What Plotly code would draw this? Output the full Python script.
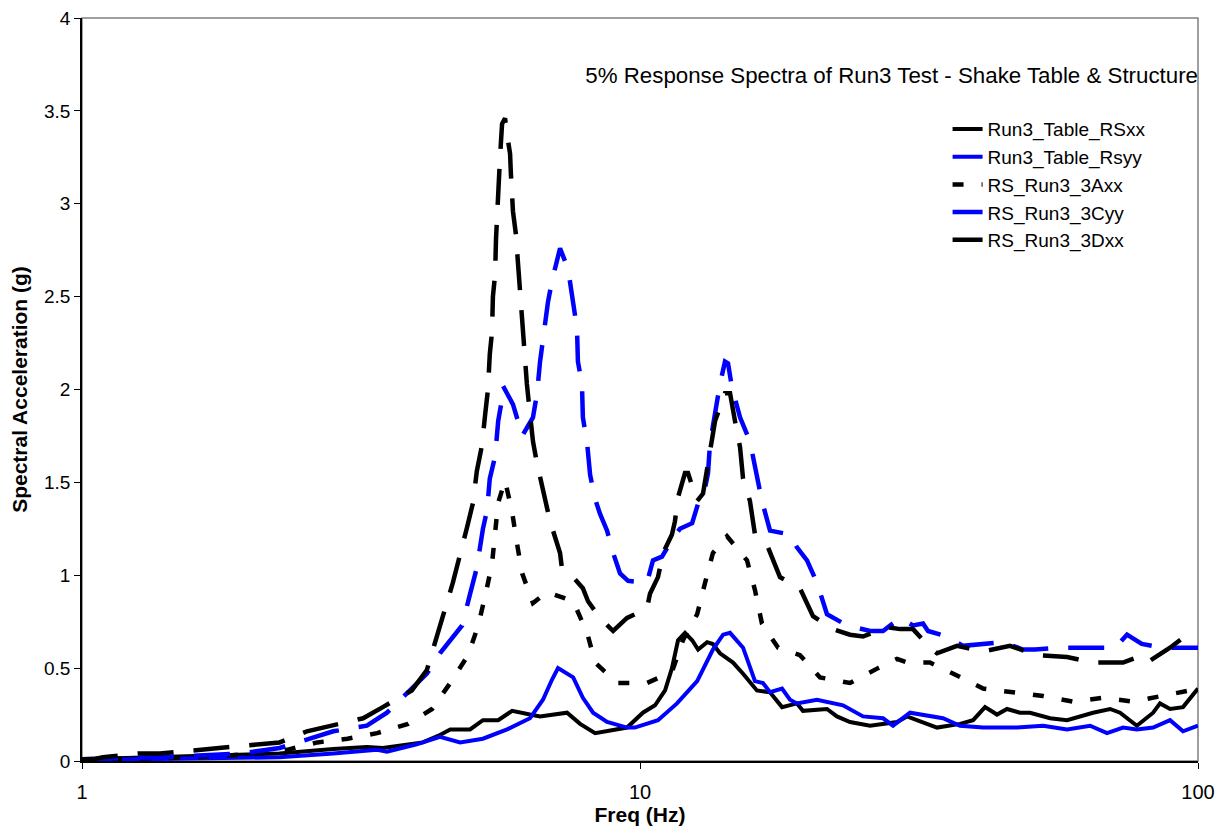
import plotly.graph_objects as go

# ---------------- data ----------------
freq_table_xx = [1.0, 1.17, 1.38, 1.77, 2.26, 2.82, 3.24, 3.46, 4.08, 4.38, 4.57, 4.96, 5.23, 5.57,
                 5.90, 6.35, 6.62, 7.40, 7.81, 8.31, 9.09, 9.48, 10.12, 10.64, 11.09, 11.41, 11.70,
                 12.04, 12.40, 12.71, 13.19, 13.51, 13.91, 14.68, 15.30, 16.20, 17.10, 17.97, 19.11,
                 19.59, 21.63, 22.54, 23.79, 25.84, 28.88, 30.09, 34.06, 37.46, 39.53, 41.53, 43.63,
                 45.47, 47.97, 50.0, 54.31, 58.25, 64.85, 69.56, 72.5, 77.7, 83.1, 85.5, 89.1, 94.0, 100.0]
sa_table_xx = [0.01, 0.015, 0.02, 0.03, 0.04, 0.065, 0.075, 0.07, 0.10, 0.14, 0.17, 0.17, 0.22, 0.22,
               0.27, 0.25, 0.24, 0.26, 0.20, 0.15, 0.17, 0.18, 0.26, 0.30, 0.38, 0.50, 0.65,
               0.69, 0.65, 0.60, 0.64, 0.63, 0.58, 0.53, 0.47, 0.38, 0.37, 0.29, 0.31,
               0.27, 0.28, 0.24, 0.21, 0.19, 0.21, 0.24, 0.18, 0.20, 0.22, 0.29, 0.25,
               0.28, 0.26, 0.26, 0.23, 0.22, 0.26, 0.28, 0.26, 0.19, 0.26, 0.31, 0.28, 0.29, 0.39]

freq_table_yy = [1.0, 1.38, 2.26, 2.82, 3.38, 3.52, 3.98, 4.38, 4.76, 5.23, 5.78, 6.35, 6.70, 6.96,
                 7.13, 7.59, 7.90, 8.24, 8.73, 9.48, 9.79, 10.77, 11.65, 12.66, 13.51, 14.09, 14.50,
                 15.30, 16.07, 16.61, 17.10, 17.97, 18.57, 19.11, 20.76, 23.11, 25.10, 27.26, 28.41,
                 30.47, 34.91, 37.46, 41.19, 47.38, 52.77, 58.25, 64.07, 68.7, 73.4, 77.7, 83.1,
                 89.1, 94.0, 100.0]
sa_table_yy = [0.005, 0.01, 0.02, 0.04, 0.06, 0.05, 0.09, 0.13, 0.10, 0.12, 0.17, 0.23, 0.33, 0.44,
               0.50, 0.45, 0.34, 0.26, 0.21, 0.18, 0.18, 0.22, 0.31, 0.43, 0.60, 0.68, 0.69,
               0.61, 0.43, 0.42, 0.37, 0.39, 0.33, 0.31, 0.33, 0.30, 0.24, 0.23, 0.19,
               0.26, 0.23, 0.19, 0.18, 0.18, 0.19, 0.17, 0.19, 0.15, 0.18, 0.17, 0.18,
               0.22, 0.16, 0.19]

freq_3axx = [1.0, 1.38, 1.77, 2.03, 2.33, 2.64, 2.99, 3.38, 3.84, 4.24, 4.57, 4.92, 5.13, 5.28,
             5.43, 5.50, 5.57, 5.73, 5.90, 6.02, 6.15, 6.43, 6.81, 7.59, 8.04, 8.31, 9.09, 10.29,
             11.41, 11.94, 12.66, 13.08, 13.51, 14.32, 15.55, 16.07, 16.54, 17.68, 19.35, 21.02,
             23.79, 26.70, 28.88, 30.09, 33.09, 36.99, 41.19, 46.61, 52.77, 59.7, 67.58, 76.5,
             86.6, 96.8, 100.0]
sa_3axx = [0.01, 0.015, 0.025, 0.04, 0.06, 0.10, 0.12, 0.15, 0.20, 0.28, 0.42, 0.57, 0.73, 0.89,
           1.06, 1.23, 1.39, 1.51, 1.34, 1.17, 1.01, 0.85, 0.91, 0.86, 0.69, 0.53, 0.42, 0.42,
           0.48, 0.65, 0.79, 0.96, 1.12, 1.21, 1.08, 0.92, 0.74, 0.61, 0.57, 0.45,
           0.42, 0.50, 0.55, 0.53, 0.53, 0.46, 0.39, 0.37, 0.35, 0.32, 0.34, 0.32,
           0.35, 0.38, 0.36]

freq_3cyy = [1.0, 1.38, 1.92, 2.26, 2.56, 2.82, 3.24, 3.52, 3.87, 4.15, 4.38, 4.51, 4.80, 4.96,
             5.10, 5.23, 5.32, 5.38, 5.50, 5.57, 5.66, 5.68, 5.92, 6.10, 6.15, 6.43, 6.54, 6.62,
             6.70, 6.84, 6.96, 7.19, 7.43, 7.59, 7.71, 7.74, 7.87, 7.90, 8.04, 8.14, 8.31, 8.48,
             8.73, 8.95, 9.21, 9.52, 10.29, 10.55, 10.95, 11.46, 11.79, 12.40, 12.81, 13.08,
             13.24, 13.35, 13.63, 13.91, 14.20, 14.38, 14.62, 15.11, 15.74, 16.20, 16.54, 17.10,
             18.57, 19.11, 19.92, 20.76, 21.63, 23.50, 25.84, 27.26, 29.24, 30.85, 32.15, 32.82,
             35.49, 37.93, 40.68, 44.72, 48.57, 51.04, 56.6, 64.07, 71.0, 74.6, 77.7, 79.3,
             86.6, 96.8, 100.0]
sa_3cyy = [0.01, 0.02, 0.04, 0.07, 0.12, 0.16, 0.19, 0.26, 0.38, 0.47, 0.58, 0.63, 0.73, 0.90,
           1.04, 1.25, 1.35, 1.52, 1.64, 1.83, 1.95, 2.02, 1.92, 1.79, 1.75, 1.85, 1.98, 2.15,
           2.28, 2.47, 2.59, 2.76, 2.65, 2.46, 2.33, 2.15, 2.03, 1.85, 1.71, 1.54, 1.41, 1.33,
           1.24, 1.12, 1.01, 0.97, 0.96, 1.08, 1.10, 1.20, 1.25, 1.28, 1.42, 1.47,
           1.55, 1.71, 1.88, 2.03, 2.15, 2.14, 2.01, 1.85, 1.72, 1.55, 1.40, 1.24,
           1.22, 1.15, 1.08, 0.96, 0.79, 0.73, 0.70, 0.70, 0.77, 0.73, 0.74, 0.70,
           0.67, 0.62, 0.63, 0.64, 0.60, 0.60, 0.61, 0.61, 0.61, 0.68, 0.65, 0.63,
           0.61, 0.61, 0.61]

freq_3dxx = [1.0, 1.05, 1.09, 1.26, 1.38, 1.61, 1.77, 2.03, 2.26, 2.53, 2.82, 3.19, 3.46, 3.90,
             4.15, 4.44, 4.62, 4.90, 5.02, 5.10, 5.21, 5.28, 5.34, 5.38, 5.43, 5.45, 5.50, 5.52,
             5.54, 5.57, 5.61, 5.66, 5.73, 5.80, 5.85, 5.87, 5.92, 5.99, 6.05, 6.10, 6.17, 6.20,
             6.27, 6.33, 6.43, 6.54, 6.76, 6.90, 7.19, 7.25, 7.59, 7.90, 8.07, 8.48, 8.95, 9.48,
             10.29, 10.42, 10.77, 11.0, 11.41, 11.55, 11.70, 12.04, 12.19, 12.66, 12.97, 13.35,
             13.63, 14.20, 14.50, 14.80, 15.11, 15.30, 15.74, 16.07, 16.96, 17.82, 19.35, 20.42,
             22.18, 23.79, 25.10, 27.72, 29.24, 30.85, 33.09, 34.06, 36.99, 41.19, 46.03, 51.46,
             58.25, 64.85, 73.4, 79.7, 82.0, 89.1, 95.6, 100.0]
sa_3dxx = [0.01, 0.01, 0.02, 0.04, 0.04, 0.06, 0.07, 0.09, 0.10, 0.16, 0.19, 0.23, 0.29, 0.38,
           0.49, 0.78, 0.96, 1.26, 1.39, 1.56, 1.70, 1.87, 2.00, 2.19, 2.31, 2.50, 2.62, 2.81,
           2.93, 3.12, 3.24, 3.43, 3.46, 3.34, 3.27, 3.16, 2.96, 2.84, 2.65, 2.53, 2.33, 2.22,
           2.03, 1.91, 1.72, 1.60, 1.42, 1.29, 1.12, 1.03, 0.99, 0.93, 0.86, 0.77, 0.70, 0.77,
           0.82, 0.90, 0.99, 1.12, 1.22, 1.29, 1.42, 1.55, 1.55, 1.40, 1.44, 1.67,
           1.83, 1.98, 1.98, 1.83, 1.69, 1.52, 1.40, 1.22, 1.15, 0.99, 0.93, 0.78,
           0.71, 0.68, 0.67, 0.72, 0.71, 0.71, 0.61, 0.58, 0.62, 0.59, 0.62, 0.57,
           0.56, 0.53, 0.53, 0.57, 0.54, 0.61, 0.68, 0.66]

x_tick_vals = [1, 10, 100]
x_tick_text = ["1", "10", "100"]

FONT = "Liberation Sans, Arial, sans-serif"
BLACK = "#000000"
BLUE = "#0000FF"

fig = go.Figure()
fig.add_trace(go.Scatter(x=freq_table_xx, y=sa_table_xx, mode="lines", name="Run3_Table_RSxx",
                         line=dict(color=BLACK, width=4)))
fig.add_trace(go.Scatter(x=freq_table_yy, y=sa_table_yy, mode="lines", name="Run3_Table_Rsyy",
                         line=dict(color=BLUE, width=4)))
fig.add_trace(go.Scatter(x=freq_3axx, y=sa_3axx, mode="lines", name="RS_Run3_3Axx",
                         line=dict(color=BLACK, width=4.5, dash="11px,18px")))
fig.add_trace(go.Scatter(x=freq_3cyy, y=sa_3cyy, mode="lines", name="RS_Run3_3Cyy",
                         line=dict(color=BLUE, width=4.5, dash="36px,20px")))
fig.add_trace(go.Scatter(x=freq_3dxx, y=sa_3dxx, mode="lines", name="RS_Run3_3Dxx",
                         line=dict(color=BLACK, width=4.5, dash="36px,20px")))

fig.update_layout(
    width=1226, height=837,
    margin=dict(l=74, r=36, t=10, b=84, autoexpand=False),
    paper_bgcolor="white", plot_bgcolor="white",
    font=dict(family=FONT, color="black", size=18),
    title=dict(text="5% Response Spectra of Run3 Test - Shake Table & Structure",
               x=1.0, xref="paper", xanchor="right",
               y=1 - 67 / 837, yref="container", yanchor="middle",
               font=dict(family=FONT, size=22.3, color="black")),
    showlegend=True,
    legend=dict(x=0.7756, y=0.876, xanchor="left", yanchor="top",
                bgcolor="rgba(255,255,255,0)", borderwidth=0,
                font=dict(family=FONT, size=19, color="black")),
    shapes=[dict(type="rect", xref="paper", yref="paper", x0=0, y0=0, x1=1, y1=1,
                 line=dict(color="#808080", width=1.5), layer="below")],
)

fig.update_xaxes(type="log", range=[0, 2], tickmode="array", tickvals=x_tick_vals,
                 ticktext=x_tick_text, ticks="outside", ticklen=6, tickcolor="black",
                 showline=True, linecolor="black", linewidth=1.5, showgrid=False,
                 zeroline=False, tickfont=dict(family=FONT, size=20),
                 ticklabelstandoff=6, ticklabeloverflow="allow",
                 title=dict(text="<b>Freq (Hz)</b>", font=dict(family=FONT, size=21), standoff=6))
fig.update_yaxes(range=[0, 4], dtick=0.5, tick0=0, ticks="outside", ticklen=6,
                 tickcolor="black", showline=True, linecolor="black", linewidth=1.5,
                 showgrid=False, zeroline=False, tickfont=dict(family=FONT, size=19),
                 ticklabeloverflow="allow",
                 title=dict(text="<b>Spectral Acceleration (g)</b>",
                            font=dict(family=FONT, size=21), standoff=14))

fig.write_html("out.html")
